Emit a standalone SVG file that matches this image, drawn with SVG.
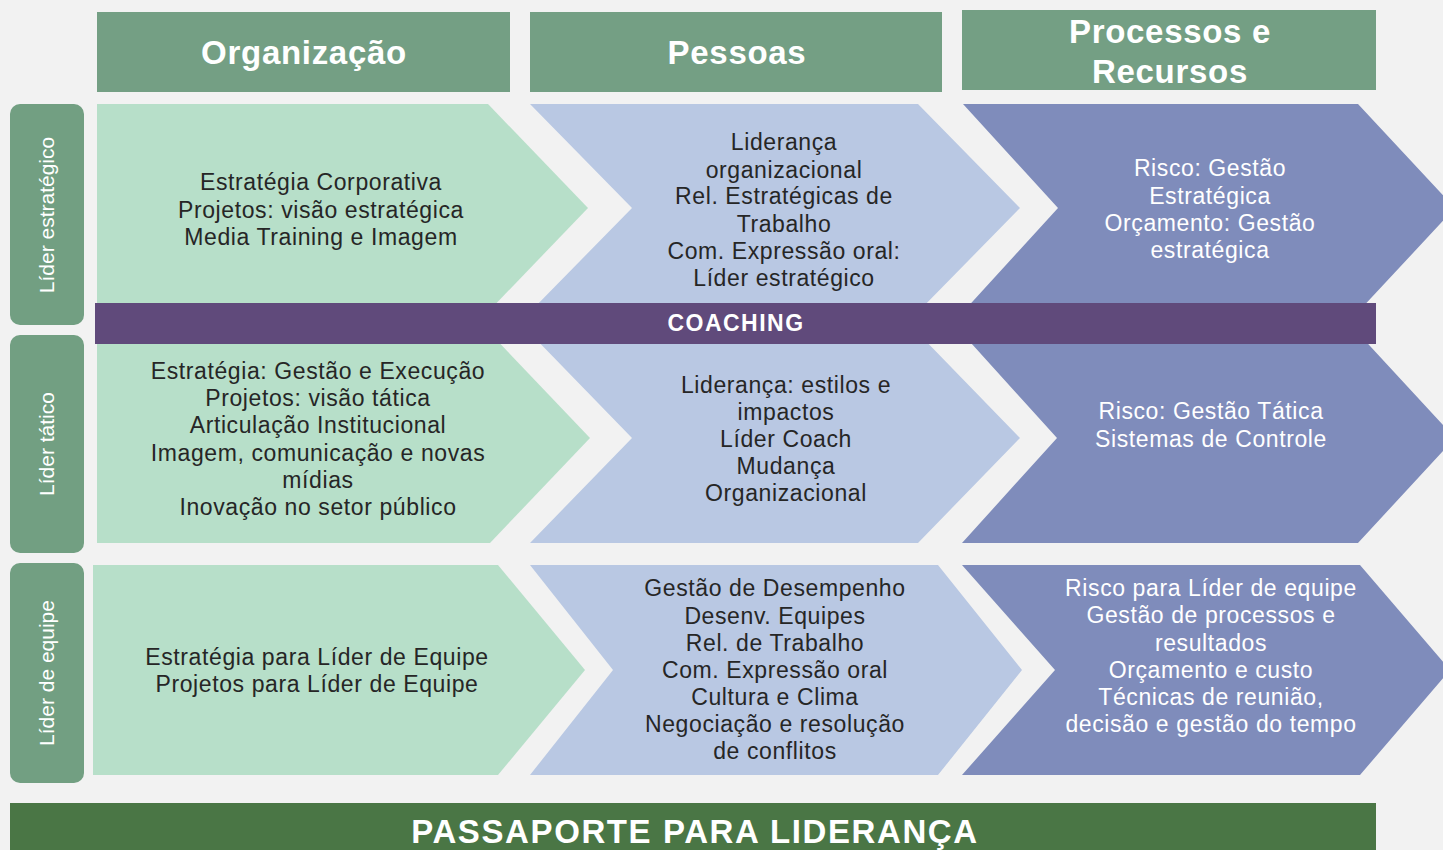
<svg xmlns="http://www.w3.org/2000/svg" width="1443" height="850" viewBox="0 0 1443 850">
<style>
.hdr{fill:#749f84}
.hdrt{font-family:"Liberation Sans",Arial,sans-serif;font-weight:bold;font-size:33px;fill:#fff;text-anchor:middle;letter-spacing:0.7px}
.lbl{fill:#729f82}
.lblt{font-family:"Liberation Sans",Arial,sans-serif;font-size:21px;fill:#fff;text-anchor:middle}
.org{fill:#b7dfc9}
.pes{fill:#b9c8e3}
.pro{fill:#7f8cbb}
.dk{font-family:"Liberation Sans",Arial,sans-serif;font-size:23px;fill:#262626;text-anchor:middle;letter-spacing:0.6px}
.wt{font-family:"Liberation Sans",Arial,sans-serif;font-size:23px;fill:#fff;text-anchor:middle;letter-spacing:0.6px}
.bt{font-family:"Liberation Sans",Arial,sans-serif;font-weight:bold;fill:#fff;text-anchor:middle}
</style>
<rect x="0" y="0" width="1443" height="850" fill="#f2f2f2"/>

<g id="header-organizacao">
<rect class="hdr" x="97" y="12" width="413" height="80"/>
<text class="hdrt" x="304" y="64">Organização</text>
</g>
<g id="header-pessoas">
<rect class="hdr" x="530" y="12" width="412" height="80"/>
<text class="hdrt" x="737" y="64">Pessoas</text>
</g>
<g id="header-processos">
<rect class="hdr" x="962" y="10" width="414" height="80"/>
<text class="hdrt" x="1170" y="43">Processos  e</text>
<text class="hdrt" x="1170" y="83">Recursos</text>
</g>

<g id="label-estrategico">
<rect class="lbl" x="10" y="104" width="74" height="221" rx="10"/>
<text class="lblt" transform="translate(54,215) rotate(-90)">Líder estratégico</text>
</g>
<g id="label-tatico">
<rect class="lbl" x="10" y="335" width="74" height="218" rx="10"/>
<text class="lblt" transform="translate(54,444) rotate(-90)">Líder tático</text>
</g>
<g id="label-equipe">
<rect class="lbl" x="10" y="563" width="74" height="220" rx="10"/>
<text class="lblt" transform="translate(54,673) rotate(-90)">Líder de equipe</text>
</g>

<g id="r1-org">
<path class="org" d="M97,104 H488 L588,208 L488,312 H97 Z"/>
<text class="dk" x="321" y="190">Estratégia Corporativa</text>
<text class="dk" x="321" y="218">Projetos: visão estratégica</text>
<text class="dk" x="321" y="245">Media Training e Imagem</text>
</g>
<g id="r1-pes">
<path class="pes" d="M530,104 H918 L1020,208 L918,312 H530 L632,208 Z"/>
<text class="dk" x="784" y="150">Liderança</text>
<text class="dk" x="784" y="178">organizacional</text>
<text class="dk" x="784" y="204">Rel. Estratégicas de</text>
<text class="dk" x="784" y="232">Trabalho</text>
<text class="dk" x="784" y="259">Com. Expressão oral:</text>
<text class="dk" x="784" y="286">Líder estratégico</text>
</g>
<g id="r1-pro">
<path class="pro" d="M963,104 H1358 L1455,208 L1358,312 H963 L1058,208 Z"/>
<text class="wt" x="1210" y="176">Risco: Gestão</text>
<text class="wt" x="1210" y="204">Estratégica</text>
<text class="wt" x="1210" y="231">Orçamento: Gestão</text>
<text class="wt" x="1210" y="258">estratégica</text>
</g>

<g id="r2-org">
<path class="org" d="M97,333 H490 L590,438 L490,543 H97 Z"/>
<text class="dk" x="318" y="379">Estratégia: Gestão e Execução</text>
<text class="dk" x="318" y="406">Projetos: visão tática</text>
<text class="dk" x="318" y="433">Articulação Institucional</text>
<text class="dk" x="318" y="461">Imagem, comunicação e novas</text>
<text class="dk" x="318" y="488">mídias</text>
<text class="dk" x="318" y="515">Inovação no setor público</text>
</g>
<g id="r2-pes">
<path class="pes" d="M530,333 H918 L1020,438 L918,543 H530 L632,438 Z"/>
<text class="dk" x="786" y="393">Liderança: estilos e</text>
<text class="dk" x="786" y="420">impactos</text>
<text class="dk" x="786" y="447">Líder Coach</text>
<text class="dk" x="786" y="474">Mudança</text>
<text class="dk" x="786" y="501">Organizacional</text>
</g>
<g id="r2-pro">
<path class="pro" d="M962,333 H1358 L1455,438 L1358,543 H962 L1057,438 Z"/>
<text class="wt" x="1211" y="419">Risco: Gestão Tática</text>
<text class="wt" x="1211" y="447">Sistemas de Controle</text>
</g>

<g id="coaching">
<rect x="95" y="303" width="1281" height="41" fill="#604a7b"/>
<text class="bt" x="736" y="331" font-size="23" letter-spacing="1.5">COACHING</text>
</g>

<g id="r3-org">
<path class="org" d="M93,565 H498 L585,670 L498,775 H93 Z"/>
<text class="dk" x="317" y="665">Estratégia para Líder de Equipe</text>
<text class="dk" x="317" y="692">Projetos para Líder de Equipe</text>
</g>
<g id="r3-pes">
<path class="pes" d="M530,565 H938 L1022,670 L938,775 H530 L613,670 Z"/>
<text class="dk" x="775" y="596">Gestão de Desempenho</text>
<text class="dk" x="775" y="624">Desenv. Equipes</text>
<text class="dk" x="775" y="651">Rel. de Trabalho</text>
<text class="dk" x="775" y="678">Com. Expressão oral</text>
<text class="dk" x="775" y="705">Cultura  e Clima</text>
<text class="dk" x="775" y="732">Negociação e resolução</text>
<text class="dk" x="775" y="759">de conflitos</text>
</g>
<g id="r3-pro">
<path class="pro" d="M962,565 H1360 L1450,670 L1360,775 H962 L1055,670 Z"/>
<text class="wt" x="1211" y="596">Risco para Líder de equipe</text>
<text class="wt" x="1211" y="623">Gestão de processos e</text>
<text class="wt" x="1211" y="651">resultados</text>
<text class="wt" x="1211" y="678">Orçamento e custo</text>
<text class="wt" x="1211" y="705">Técnicas de reunião,</text>
<text class="wt" x="1211" y="732">decisão e gestão do tempo</text>
</g>

<g id="passaporte">
<rect x="10" y="803" width="1366" height="60" fill="#4a7645"/>
<text class="bt" x="695" y="843" font-size="33" letter-spacing="1.6">PASSAPORTE  PARA LIDERANÇA</text>
</g>
<g id="connectors"/>
</svg>
